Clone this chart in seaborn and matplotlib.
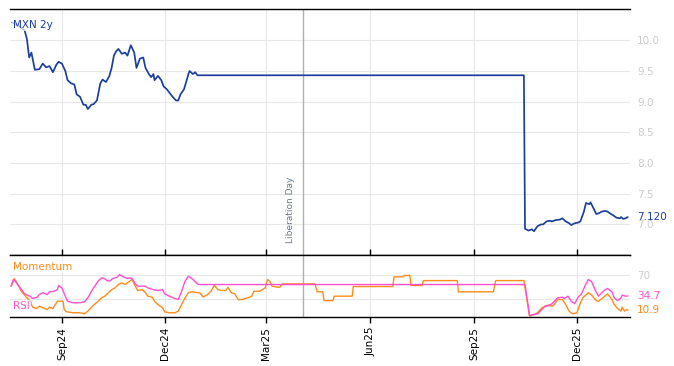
import pandas as pd
import matplotlib
matplotlib.use("Agg")
import matplotlib.pyplot as plt
import matplotlib.dates as mdates
import seaborn as sns

# MXN 2y swap level
mxn_dates = ["2024-07-19", "2024-07-24", "2024-07-30", "2024-08-01", "2024-08-03", "2024-08-05",
             "2024-08-08", "2024-08-12", "2024-08-15", "2024-08-18", "2024-08-21", "2024-08-24",
             "2024-08-27", "2024-08-29", "2024-09-01", "2024-09-04", "2024-09-06", "2024-09-09",
             "2024-09-12", "2024-09-14", "2024-09-17", "2024-09-20", "2024-09-22", "2024-09-24",
             "2024-09-27", "2024-09-29", "2024-10-02", "2024-10-05", "2024-10-07", "2024-10-10",
             "2024-10-13", "2024-10-15", "2024-10-17", "2024-10-19", "2024-10-21", "2024-10-24",
             "2024-10-27", "2024-10-29", "2024-11-01", "2024-11-04", "2024-11-06", "2024-11-09",
             "2024-11-12", "2024-11-14", "2024-11-17", "2024-11-19", "2024-11-21", "2024-11-22",
             "2024-11-25", "2024-11-28", "2024-11-30", "2024-12-03", "2024-12-05", "2024-12-08",
             "2024-12-11", "2024-12-13", "2024-12-15", "2024-12-18", "2024-12-20", "2024-12-22",
             "2024-12-23", "2024-12-26", "2024-12-28", "2024-12-30", "2025-10-15", "2025-10-16",
             "2025-10-19", "2025-10-22", "2025-10-24", "2025-10-27", "2025-10-30", "2025-11-01",
             "2025-11-04", "2025-11-07", "2025-11-09", "2025-11-12", "2025-11-16", "2025-11-18",
             "2025-11-21", "2025-11-24", "2025-11-26", "2025-11-29", "2025-12-02", "2025-12-04",
             "2025-12-07", "2025-12-09", "2025-12-12", "2025-12-13", "2025-12-16", "2025-12-18",
             "2025-12-20", "2025-12-23", "2025-12-26", "2025-12-28", "2025-12-31", "2026-01-02",
             "2026-01-05", "2026-01-08", "2026-01-09", "2026-01-11", "2026-01-13", "2026-01-15"]
mxn_vals = [10.29, 10.25, 10.16, 10.02, 9.72, 9.80,
            9.52, 9.53, 9.62, 9.56, 9.58, 9.48,
            9.60, 9.65, 9.62, 9.50, 9.35, 9.30,
            9.28, 9.12, 9.08, 8.95, 8.95, 8.88,
            8.95, 8.96, 9.02, 9.30, 9.36, 9.32,
            9.42, 9.55, 9.75, 9.82, 9.86, 9.78,
            9.80, 9.75, 9.92, 9.80, 9.55, 9.70,
            9.72, 9.55, 9.45, 9.40, 9.45, 9.35,
            9.42, 9.35, 9.25, 9.20, 9.15, 9.08,
            9.02, 9.02, 9.12, 9.20, 9.32, 9.45,
            9.50, 9.45, 9.48, 9.43, 9.43, 6.93,
            6.90, 6.92, 6.89, 6.97, 7.00, 7.00,
            7.05, 7.06, 7.05, 7.07, 7.08, 7.10,
            7.05, 7.02, 6.99, 7.02, 7.03, 7.05,
            7.20, 7.35, 7.33, 7.36, 7.25, 7.17,
            7.18, 7.21, 7.22, 7.21, 7.17, 7.15,
            7.11, 7.10, 7.12, 7.09, 7.10, 7.12]

# RSI
rsi_dates = ["2024-07-18", "2024-07-20", "2024-07-22", "2024-07-26", "2024-07-30", "2024-08-04",
             "2024-08-06", "2024-08-10", "2024-08-12", "2024-08-15", "2024-08-19", "2024-08-21",
             "2024-08-25", "2024-08-28", "2024-08-29", "2024-09-01", "2024-09-04", "2024-09-06",
             "2024-09-11", "2024-09-17", "2024-09-21", "2024-09-24", "2024-09-28", "2024-10-03",
             "2024-10-06", "2024-10-08", "2024-10-11", "2024-10-13", "2024-10-16", "2024-10-20",
             "2024-10-22", "2024-10-25", "2024-10-29", "2024-10-31", "2024-11-02", "2024-11-05",
             "2024-11-07", "2024-11-14", "2024-11-16", "2024-11-21", "2024-11-25", "2024-11-29",
             "2024-12-01", "2024-12-05", "2024-12-10", "2024-12-13", "2024-12-16", "2024-12-19",
             "2024-12-22", "2024-12-25", "2024-12-30", "2025-01-01", "2025-10-16", "2025-10-20",
             "2025-10-23", "2025-10-27", "2025-10-31", "2025-11-03", "2025-11-05", "2025-11-09",
             "2025-11-11", "2025-11-14", "2025-11-18", "2025-11-20", "2025-11-23", "2025-11-26",
             "2025-11-29", "2025-12-02", "2025-12-05", "2025-12-08", "2025-12-11", "2025-12-14",
             "2025-12-17", "2025-12-20", "2025-12-23", "2025-12-26", "2025-12-28", "2026-01-01",
             "2026-01-03", "2026-01-06", "2026-01-09", "2026-01-10", "2026-01-13", "2026-01-15"]
rsi_vals = [50.8, 61.8, 58.0, 48.0, 38.0, 34.0,
            30.5, 32.6, 37.0, 40.0, 37.0, 41.5,
            42.5, 45.0, 52.0, 48.0, 34.0, 26.0,
            23.4, 23.4, 25.0, 31.6, 45.0, 59.0,
            64.5, 64.0, 60.0, 59.0, 63.4, 65.6,
            70.0, 66.7, 63.4, 64.5, 63.4, 54.6,
            50.8, 50.8, 48.0, 45.0, 43.7, 45.0,
            38.2, 34.3, 30.5, 28.8, 42.5, 59.0,
            67.2, 63.4, 54.6, 53.5, 53.5, 2.5,
            4.0, 5.0, 12.4, 18.0, 18.0, 22.0,
            26.0, 31.6, 32.6, 30.5, 34.3, 26.0,
            22.0, 32.6, 38.2, 50.8, 61.8, 58.0,
            45.0, 34.3, 40.0, 45.0, 47.0, 41.5,
            31.6, 27.0, 31.6, 36.0, 34.3, 34.7]

# Momentum (rescaled)
mom_dates = ["2024-07-18", "2024-07-21", "2024-07-24", "2024-07-27", "2024-08-01", "2024-08-04",
             "2024-08-06", "2024-08-10", "2024-08-12", "2024-08-15", "2024-08-19", "2024-08-21",
             "2024-08-24", "2024-08-28", "2024-09-02", "2024-09-03", "2024-09-05", "2024-09-11",
             "2024-09-17", "2024-09-21", "2024-09-24", "2024-09-28", "2024-10-03", "2024-10-06",
             "2024-10-09", "2024-10-12", "2024-10-15", "2024-10-18", "2024-10-21", "2024-10-24",
             "2024-10-27", "2024-10-29", "2024-11-02", "2024-11-05", "2024-11-07", "2024-11-11",
             "2024-11-14", "2024-11-16", "2024-11-20", "2024-11-22", "2024-11-25", "2024-11-29",
             "2024-12-01", "2024-12-05", "2024-12-10", "2024-12-13", "2024-12-16", "2024-12-19",
             "2024-12-22", "2024-12-25", "2024-12-30", "2025-01-01", "2025-01-04", "2025-01-08",
             "2025-01-11", "2025-01-14", "2025-01-17", "2025-01-20", "2025-01-24", "2025-01-26",
             "2025-01-29", "2025-02-01", "2025-02-04", "2025-02-08", "2025-02-12", "2025-02-14",
             "2025-02-16", "2025-02-18", "2025-02-23", "2025-02-28", "2025-03-02", "2025-03-04",
             "2025-03-06", "2025-03-11", "2025-03-13", "2025-03-15", "2025-04-13", "2025-04-15",
             "2025-04-20", "2025-04-21", "2025-04-29", "2025-04-30", "2025-05-16", "2025-05-17",
             "2025-06-21", "2025-06-22", "2025-06-30", "2025-07-01", "2025-07-06", "2025-07-07",
             "2025-07-17", "2025-07-18", "2025-08-17", "2025-08-18", "2025-09-18", "2025-09-20",
             "2025-10-15", "2025-10-20", "2025-10-24", "2025-10-27", "2025-10-31", "2025-11-03",
             "2025-11-05", "2025-11-09", "2025-11-11", "2025-11-14", "2025-11-18", "2025-11-21",
             "2025-11-24", "2025-11-27", "2025-12-01", "2025-12-03", "2025-12-06", "2025-12-11",
             "2025-12-14", "2025-12-18", "2025-12-20", "2025-12-24", "2025-12-28", "2026-01-01",
             "2026-01-03", "2026-01-06", "2026-01-09", "2026-01-10", "2026-01-12", "2026-01-14",
             "2026-01-15"]
mom_vals = [50.8, 63.4, 53.5, 42.5, 31.6, 26.0,
            16.2, 14.0, 17.8, 15.2, 12.4, 16.2,
            14.0, 26.0, 26.0, 12.4, 8.6, 7.0,
            7.0, 5.3, 9.6, 17.8, 26.0, 31.6,
            34.3, 40.0, 45.0, 48.0, 53.5, 56.3,
            53.5, 56.3, 61.8, 50.8, 43.7, 45.0,
            40.0, 34.3, 32.6, 26.0, 20.6, 15.2,
            8.6, 7.0, 7.0, 9.6, 20.6, 31.6,
            40.0, 41.5, 40.0, 40.0, 33.0, 37.0,
            42.5, 52.4, 45.0, 43.7, 43.7, 49.0,
            40.0, 38.2, 28.8, 28.8, 31.6, 32.6,
            34.3, 42.5, 42.5, 48.0, 61.8, 59.0,
            50.8, 49.0, 49.0, 54.6, 54.6, 41.5,
            41.5, 27.0, 27.0, 34.3, 34.3, 50.2,
            50.2, 66.2, 66.2, 68.4, 68.4, 52.0,
            52.0, 60.0, 60.0, 41.5, 41.5, 60.0,
            60.0, 1.5, 4.0, 7.0, 15.2, 18.0,
            19.5, 18.0, 20.6, 28.8, 28.8, 20.6,
            9.6, 5.3, 7.0, 18.0, 31.6, 40.0,
            36.0, 27.0, 26.0, 31.6, 38.2, 28.8,
            20.6, 14.0, 9.6, 16.2, 9.6, 12.4,
            10.9]

event_date = "2025-04-02"
event_label = "Liberation Day"
x_start, x_end = "2024-07-17", "2026-01-17"

blue = "#1c3f9e"
orange = "#ff8c1a"
magenta = "#ff4fd0"
light = "#cccccc"

mxn = pd.DataFrame({"date": pd.to_datetime(mxn_dates), "value": mxn_vals})
rsi = pd.DataFrame({"date": pd.to_datetime(rsi_dates), "value": rsi_vals})
mom = pd.DataFrame({"date": pd.to_datetime(mom_dates), "value": mom_vals})

sns.set_theme(style="whitegrid")
plt.rcParams["font.family"] = ["DejaVu Sans"]

fig = plt.figure(figsize=(6.74, 3.66), dpi=100)
ax = fig.add_axes([0.0148, 0.3046, 0.92, 0.6708])
ax2 = fig.add_axes([0.0148, 0.1339, 0.92, 0.1707], sharex=ax)

sns.lineplot(data=mxn, x="date", y="value", ax=ax, color=blue, linewidth=1.25)
sns.lineplot(data=mom, x="date", y="value", ax=ax2, color=orange, linewidth=1.0)
sns.lineplot(data=rsi, x="date", y="value", ax=ax2, color=magenta, linewidth=1.0)

for a in (ax, ax2):
    a.set_xlabel("")
    a.set_ylabel("")
    a.grid(True, color="#e8e8e8", linewidth=0.8)
    a.set_facecolor("white")
    for side in ("left", "right"):
        a.spines[side].set_visible(False)
    for side in ("top", "bottom"):
        a.spines[side].set_visible(True)
        a.spines[side].set_color("black")
        a.spines[side].set_linewidth(1.0)
    a.yaxis.tick_right()
    a.tick_params(axis="y", length=0, pad=5, labelsize=7.5, labelcolor=light)
    a.axvline(pd.Timestamp(event_date), color="#b0b0b0", linewidth=1.0, zorder=1)

ax.set_ylim(6.51, 10.51)
ax.set_yticks([7.0, 7.5, 8.0, 8.5, 9.0, 9.5, 10.0])
ax.yaxis.set_major_formatter(matplotlib.ticker.FormatStrFormatter("%.1f"))
ax2.set_ylim(0, 103)
ax2.set_yticks([30, 70])
ax2.set_yticklabels(["", "70"])  # 30 sits under the RSI end label

ax2.set_xlim(pd.Timestamp(x_start), pd.Timestamp(x_end))
ax2.xaxis.set_major_locator(mdates.MonthLocator(bymonth=[3, 6, 9, 12]))
ax2.xaxis.set_major_formatter(mdates.DateFormatter("%b%y"))
ax.tick_params(axis="x", bottom=False, labelbottom=False)
ax2.tick_params(axis="x", bottom=True, top=True, direction="out", length=4, width=1,
                color="black", labelsize=7.5, labelcolor="black", labelrotation=90, pad=3)

# event annotation
ax.annotate(event_label, xy=(pd.Timestamp(event_date), 0), xycoords=("data", "axes fraction"),
            xytext=(-9, 8), textcoords="offset points", rotation=90, ha="center", va="bottom",
            fontsize=6.5, color="#6b7b8c")

# series labels
box = dict(facecolor="white", edgecolor="none", alpha=0.7, pad=0.5)
ax.text(0.005, 0.935, "MXN 2y", transform=ax.transAxes, color=blue, fontsize=7.5,
        va="center", ha="left", bbox=box)
ax2.text(0.005, 0.80, "Momentum", transform=ax2.transAxes, color=orange, fontsize=7.5,
         va="center", ha="left", bbox=box)
ax2.text(0.005, 0.18, "RSI", transform=ax2.transAxes, color=magenta, fontsize=7.5,
         va="center", ha="left", bbox=box)

# last values
ax.annotate(f"{mxn_vals[-1]:.3f}", xy=(1, mxn_vals[-1]), xycoords=("axes fraction", "data"),
            xytext=(5, 0), textcoords="offset points", va="center", ha="left",
            fontsize=7.5, color=blue)
ax2.annotate(f"{rsi_vals[-1]:.1f}", xy=(1, rsi_vals[-1]), xycoords=("axes fraction", "data"),
             xytext=(5, 0), textcoords="offset points", va="center", ha="left",
             fontsize=7.5, color=magenta)
ax2.annotate(f"{mom_vals[-1]:.1f}", xy=(1, mom_vals[-1]), xycoords=("axes fraction", "data"),
             xytext=(5, 0), textcoords="offset points", va="center", ha="left",
             fontsize=7.5, color=orange)

fig.savefig("out.png", dpi=100, facecolor="white")
